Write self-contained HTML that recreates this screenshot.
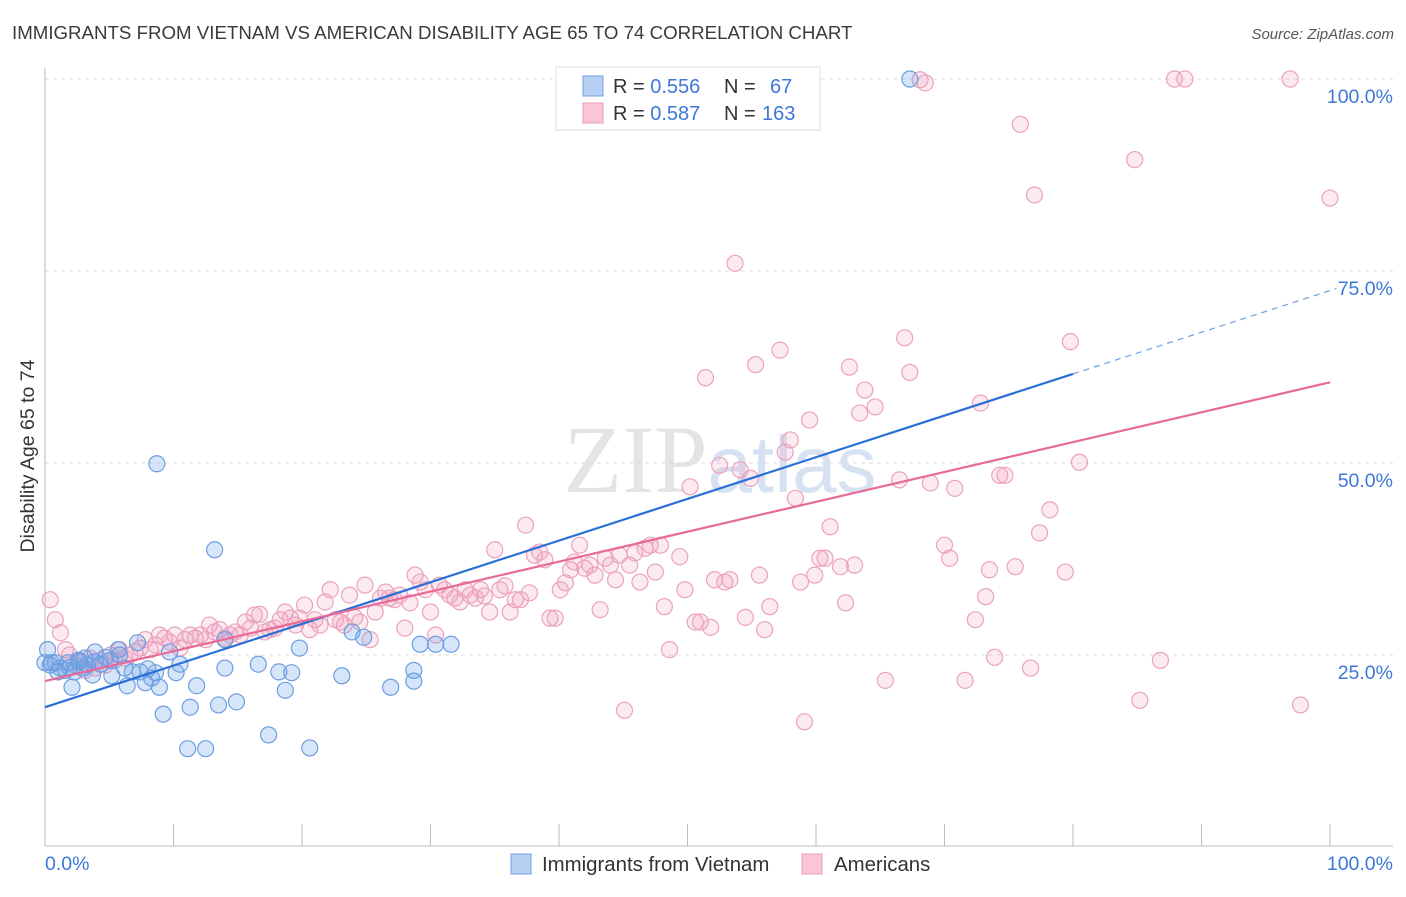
<!DOCTYPE html>
<html><head><meta charset="utf-8"><style>
body{margin:0;background:#fff;font-family:"Liberation Sans",sans-serif;}
svg text{font-family:"Liberation Sans",sans-serif;}
</style></head><body>
<svg id="chart" width="1406" height="892" viewBox="0 0 1406 892">
<text x="12" y="39" font-size="18.7" fill="#3a3a3a">IMMIGRANTS FROM VIETNAM VS AMERICAN DISABILITY AGE 65 TO 74 CORRELATION CHART</text>
<text x="1394" y="39" font-size="15" fill="#555" font-style="italic" text-anchor="end">Source: ZipAtlas.com</text>
<text x="720" y="492" font-size="96" fill="#e4e4e4" text-anchor="middle" font-family="Liberation Serif"><tspan font-family="Liberation Serif">ZIP</tspan><tspan fill="#d6e2f2" font-family="Liberation Sans" font-size="80">atlas</tspan></text>
<g id="grid"></g>
<g id="axes"></g>
<g id="pts"></g>
<g id="trend"></g>
<text transform="translate(34,456) rotate(-90)" font-size="19.5" fill="#333" text-anchor="middle">Disability Age 65 to 74</text>
<g>
<rect x="556" y="67" width="264" height="63" fill="#fff" stroke="#ddd"/>
<rect x="583" y="76" width="20" height="20" fill="#b8d0f3" stroke="#6f9fe3"/>
<rect x="583" y="103" width="20" height="20" fill="#f8c6d6" stroke="#ea9ab5"/>
<text x="613" y="93" font-size="20" fill="#333">R = <tspan fill="#3d78d8">0.556</tspan><tspan x="724">N =</tspan><tspan fill="#3d78d8" x="770">67</tspan></text>
<text x="613" y="120" font-size="20" fill="#333">R = <tspan fill="#3d78d8">0.587</tspan><tspan x="724">N =</tspan><tspan fill="#3d78d8" x="762">163</tspan></text>
</g>
<g>
<rect x="511" y="854" width="20" height="20" fill="#b8d0f3" stroke="#6f9fe3"/>
<text x="542" y="871" font-size="20.4" fill="#333">Immigrants from Vietnam</text>
<rect x="802" y="854" width="20" height="20" fill="#f8c6d6" stroke="#ea9ab5"/>
<text x="834" y="871" font-size="20.4" fill="#333">Americans</text>
</g>
</svg>
<script>
const yTicks=[25,50,75,100];
const yTickLabels=["25.0%","50.0%","75.0%","100.0%"];
const xTicks=[0,10,20,30,40,50,60,70,80,90,100];
const xEndLabels=["0.0%","100.0%"];
const bluePoints=[[0.4,23.7],[0.8,24.0],[1.2,23.3],[1.6,23.0],[1.9,23.4],[2.1,20.8],[2.3,22.8],[2.7,24.1],[3.1,24.6],[3.3,23.7],[3.7,22.4],[3.9,24.1],[4.3,23.8],[4.7,24.7],[5.1,24.3],[5.2,22.3],[5.7,25.7],[5.8,25.0],[6.2,23.3],[6.4,21.0],[6.8,22.8],[7.2,26.6],[7.4,22.8],[7.8,21.4],[8.0,23.2],[8.3,22.0],[8.6,22.7],[8.7,49.9],[8.9,20.8],[9.2,17.3],[9.7,25.4],[10.2,22.7],[10.5,23.8],[11.1,12.8],[11.3,18.2],[11.8,21.0],[12.5,12.8],[13.2,38.7],[13.5,18.5],[14.0,23.3],[14.0,27.0],[14.9,18.9],[16.6,23.8],[17.4,14.6],[18.2,22.8],[18.7,20.4],[19.2,22.7],[19.8,25.9],[20.6,12.9],[23.1,22.3],[23.9,28.0],[24.8,27.3],[26.9,20.8],[28.7,21.6],[28.7,23.0],[29.2,26.4],[30.4,26.4],[31.6,26.4],[67.3,100],[0.2,25.7],[0,24.0],[0.5,24.0],[1.0,22.8],[1.8,24.0],[2.6,24.3],[3.0,23.3],[3.9,25.4]];
const pinkPoints=[[0.4,32.2],[0.8,29.6],[1.2,27.9],[1.6,25.7],[1.9,25.0],[2.3,23.7],[2.7,24.3],[3.1,23.0],[3.5,24.6],[3.9,23.3],[4.3,24.3],[4.7,23.7],[5.1,25.0],[5.4,24.3],[5.8,25.7],[6.2,24.6],[6.6,25.0],[7.0,25.4],[7.4,25.9],[7.8,27.0],[8.2,25.7],[8.6,26.3],[8.9,27.6],[9.3,27.2],[9.7,26.7],[10.1,27.6],[10.5,25.9],[10.9,27.0],[11.3,27.6],[11.7,27.2],[12.1,27.6],[12.5,27.0],[12.8,28.9],[13.2,28.0],[13.6,28.3],[14.0,27.2],[14.4,27.6],[14.8,28.0],[15.2,27.6],[15.6,29.3],[16.0,28.5],[16.3,30.2],[16.7,30.3],[17.1,28.0],[17.5,28.3],[17.9,28.5],[18.3,29.6],[18.7,30.6],[19.1,29.8],[19.5,28.9],[19.8,29.8],[20.2,31.5],[20.6,28.3],[21.0,29.6],[21.4,28.9],[21.8,31.9],[22.2,33.5],[22.6,29.6],[23.0,29.3],[23.3,28.9],[23.7,32.8],[24.1,29.9],[24.5,29.3],[24.9,34.1],[25.3,27.0],[25.7,30.6],[26.1,32.4],[26.5,33.2],[26.8,32.4],[27.2,32.2],[27.6,32.8],[28.0,28.5],[28.4,31.8],[28.8,35.4],[29.2,34.5],[29.6,33.5],[30.0,30.6],[30.4,27.6],[30.7,34.1],[31.1,33.5],[31.5,32.8],[31.9,32.4],[32.3,31.9],[32.7,33.5],[33.1,32.8],[33.5,32.4],[33.9,33.5],[34.2,32.7],[34.6,30.6],[35.0,38.7],[35.4,33.5],[35.8,34.0],[36.2,30.6],[36.6,32.2],[37.0,32.2],[37.4,41.9],[37.7,33.1],[38.1,38.0],[38.5,38.4],[38.9,37.4],[39.3,29.8],[39.7,29.8],[40.1,33.5],[40.5,34.4],[40.9,36.1],[41.2,37.1],[41.6,39.3],[42.0,36.3],[42.4,36.7],[42.8,35.4],[43.2,30.9],[43.6,37.6],[44.0,36.7],[44.4,34.8],[44.7,38.0],[45.1,17.8],[45.5,36.7],[45.9,38.3],[46.3,34.5],[46.7,38.9],[47.1,39.3],[47.5,35.8],[47.9,39.3],[48.2,31.3],[48.6,25.7],[49.4,37.8],[49.8,33.5],[50.2,46.9],[50.6,29.3],[51.0,29.3],[51.4,61.1],[51.8,28.6],[52.1,34.8],[52.5,49.7],[52.9,34.5],[53.3,34.8],[53.7,76.0],[54.1,49.1],[54.5,29.9],[54.9,48.0],[55.3,62.8],[55.6,35.4],[56.0,28.3],[56.4,31.3],[57.2,64.7],[57.6,51.4],[58.0,53.0],[58.4,45.4],[58.8,34.5],[59.1,16.3],[59.5,55.6],[59.9,35.4],[60.3,37.6],[60.7,37.6],[61.1,41.7],[61.9,36.5],[62.3,31.8],[62.6,62.5],[63.0,36.7],[63.4,56.5],[63.8,59.5],[64.6,57.3],[65.4,21.7],[66.5,47.8],[66.9,66.3],[67.3,61.8],[68.1,99.9],[68.5,99.5],[68.9,47.4],[70.0,39.3],[70.4,37.6],[70.8,46.7],[71.6,21.7],[72.4,29.6],[72.8,57.8],[73.2,32.6],[73.5,36.1],[73.9,24.7],[74.3,48.4],[74.7,48.4],[75.5,36.5],[75.9,94.1],[76.7,23.3],[77.0,84.9],[77.4,40.9],[78.2,43.9],[79.4,35.8],[79.8,65.8],[80.5,50.1],[84.8,89.5],[85.2,19.1],[86.8,24.3],[87.9,100],[88.7,100],[96.9,100],[97.7,18.5],[100,84.5]];
const blueTrend=[18.2,0.5425];
const pinkTrend=[21.6,0.389];

const NS="http://www.w3.org/2000/svg";
const X0=45,X1=1330,Y0=847,Y1=79;
function sx(v){return X0+(X1-X0)*v/100;}
function sy(v){return Y0-(Y0-Y1)*v/100;}
function mk(tag,attrs,parent){const e=document.createElementNS(NS,tag);for(const k in attrs)e.setAttribute(k,attrs[k]);parent.appendChild(e);return e;}
const grid=document.getElementById('grid'),axes=document.getElementById('axes'),pts=document.getElementById('pts'),trend=document.getElementById('trend');
yTicks.forEach((t,i)=>{
  const l=mk('line',{x1:X0,x2:1393,y1:sy(t),y2:sy(t),stroke:'#ddd','stroke-dasharray':'4,4'},grid);
  
  
  const tx=mk('text',{x:1393,y:sy(t)+24,'font-size':19.5,fill:'#3d78d8','text-anchor':'end'},axes);
  tx.textContent=yTickLabels[i];
  
  
});
const ax=mk('line',{x1:X0,x2:1393,y1:846,y2:846,stroke:'#bbb'},axes);


const ay=mk('line',{x1:X0,x2:X0,y1:68,y2:846,stroke:'#bbb'},axes);


xTicks.forEach(t=>{
  const l=mk('line',{x1:sx(t),x2:sx(t),y1:824,y2:846,stroke:'#bbb'},axes);
  
  
});
const xl0=mk('text',{x:45,y:870,'font-size':19.5,fill:'#3d78d8'},axes);xl0.textContent=xEndLabels[0];


const xl1=mk('text',{x:1393,y:870,'font-size':19.5,fill:'#3d78d8','text-anchor':'end'},axes);xl1.textContent=xEndLabels[1];


pinkPoints.forEach(p=>{
  const c=mk('circle',{cx:sx(p[0]),cy:sy(p[1]),r:8,fill:'rgba(242,160,190,0.22)',stroke:'#eba2bb','stroke-width':1.2},pts);
  
  
});
bluePoints.forEach(p=>{
  const c=mk('circle',{cx:sx(p[0]),cy:sy(p[1]),r:8,fill:'rgba(110,160,230,0.28)',stroke:'#6c9ee2','stroke-width':1.2},pts);
  
  
});
const bl=mk('line',{x1:sx(0),y1:sy(blueTrend[0]),x2:sx(80),y2:sy(blueTrend[0]+blueTrend[1]*80),stroke:'#2a6fd6','stroke-width':2.2},trend);


const bd=mk('line',{x1:sx(80),y1:sy(blueTrend[0]+blueTrend[1]*80),x2:sx(100.5),y2:sy(blueTrend[0]+blueTrend[1]*100.5),stroke:'#6c9ee2','stroke-width':1.2,'stroke-dasharray':'6,5'},trend);


const pl=mk('line',{x1:sx(0),y1:sy(pinkTrend[0]),x2:sx(100),y2:sy(pinkTrend[0]+pinkTrend[1]*100),stroke:'#e76a98','stroke-width':2.2},trend);


</script>
</body></html>
